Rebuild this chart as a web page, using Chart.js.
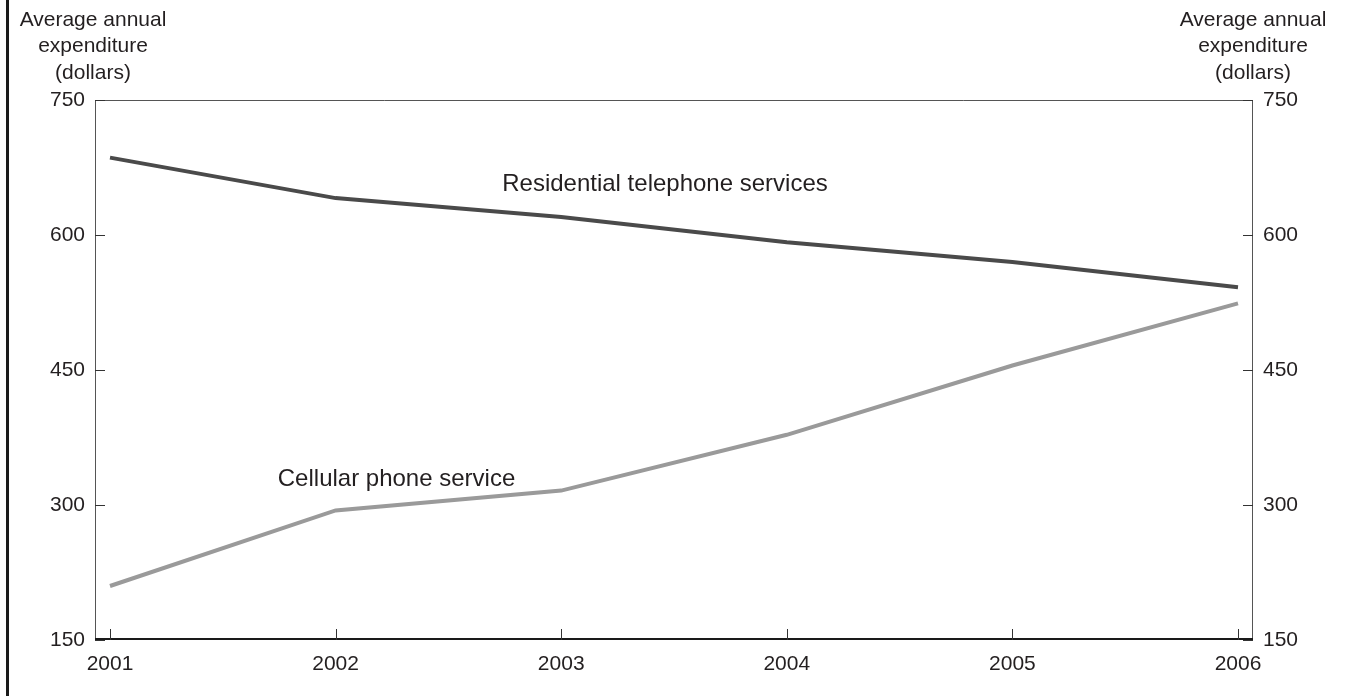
<!DOCTYPE html>
<html>
<head>
<meta charset="utf-8">
<script src="https://cdn.jsdelivr.net/npm/chart.js@4"></script>
<style>
  html, body { margin: 0; padding: 0; background: #fff; }
  canvas { display: block; }
</style>
</head>
<body>
<canvas id="chart" width="1346" height="696"></canvas>
<script>
const years = [2001, 2002, 2003, 2004, 2005, 2006];
const residential = [686, 641, 620, 592, 570, 542];
const cellular = [210, 294, 316, 378, 455, 524];
const yTicks = [150, 300, 450, 600, 750];
const axisTitle = ['Average annual', 'expenditure', '(dollars)'];
const seriesLabels = [
  { text: 'Residential telephone services', x: 2003.46, y: 656 },
  { text: 'Cellular phone service', x: 2002.27, y: 328 }
];

const FONT = 'Liberation Sans, Arial, Helvetica, sans-serif';
const TEXT = '#231f20';

// frame, plot border, inward ticks, titles and in-chart labels
const decor = {
  id: 'decor',
  beforeDraw(chart) {
    const c = chart.ctx;
    c.save();
    c.fillStyle = '#1a1a1a';
    c.fillRect(6, 0, 3, chart.height);
    c.restore();
  },
  afterDraw(chart) {
    const c = chart.ctx;
    const a = chart.chartArea;
    const sx = chart.scales.x, sy = chart.scales.y, sy2 = chart.scales.y2;
    c.save();
    // border
    c.strokeStyle = '#555';
    c.lineWidth = 1;
    c.beginPath();
    c.moveTo(a.left + 0.5, a.bottom);
    c.lineTo(a.left + 0.5, a.top + 0.5);
    c.lineTo(a.right - 0.5, a.top + 0.5);
    c.lineTo(a.right - 0.5, a.bottom);
    c.stroke();
    c.strokeStyle = '#1a1a1a';
    c.lineWidth = 2;
    c.beginPath();
    c.moveTo(a.left, a.bottom - 1);
    c.lineTo(a.right, a.bottom - 1);
    c.stroke();
    // inward ticks
    c.strokeStyle = '#333';
    c.lineWidth = 1;
    c.beginPath();
    years.forEach(v => {
      const px = Math.round(sx.getPixelForValue(v)) + 0.5;
      c.moveTo(px, a.bottom);
      c.lineTo(px, a.bottom - 11);
    });
    yTicks.forEach(v => {
      const py = Math.round(sy.getPixelForValue(v)) + 0.5;
      c.moveTo(a.left, py);
      c.lineTo(a.left + 10, py);
      const py2 = Math.round(sy2.getPixelForValue(v)) + 0.5;
      c.moveTo(a.right, py2);
      c.lineTo(a.right - 10, py2);
    });
    c.stroke();
    // axis titles
    c.fillStyle = TEXT;
    c.font = '21px ' + FONT;
    c.textAlign = 'center';
    c.textBaseline = 'middle';
    axisTitle.forEach((t, i) => {
      c.fillText(t, a.left - 2, 20 + i * 26.5);
      c.fillText(t, a.right, 20 + i * 26.5);
    });
    // series labels
    c.font = '24px ' + FONT;
    seriesLabels.forEach(l => {
      c.fillText(l.text, sx.getPixelForValue(l.x), sy.getPixelForValue(l.y));
    });
    c.restore();
  }
};

const yAxis = (pos, w) => ({
  type: 'linear',
  position: pos,
  min: 150,
  max: 750,
  afterBuildTicks: s => { s.ticks = yTicks.map(v => ({ value: v })); },
  afterFit: s => { s.width = w; },
  grid: { display: false, drawTicks: false },
  border: { display: false },
  ticks: { padding: 10, color: TEXT, font: { family: FONT, size: 21 } }
});

new Chart(document.getElementById('chart'), {
  type: 'line',
  data: {
    datasets: [
      {
        label: 'Residential telephone services',
        data: years.map((y, i) => ({ x: y, y: residential[i] })),
        borderColor: '#4a4a4a',
        borderWidth: 4,
        pointRadius: 0,
        tension: 0,
        fill: false
      },
      {
        label: 'Cellular phone service',
        data: years.map((y, i) => ({ x: y, y: cellular[i] })),
        borderColor: '#9a9a9a',
        borderWidth: 4,
        pointRadius: 0,
        tension: 0,
        fill: false
      }
    ]
  },
  options: {
    responsive: false,
    animation: false,
    layout: { padding: { top: 100, left: 0, right: 0, bottom: 0 } },
    plugins: { legend: { display: false }, tooltip: { enabled: false } },
    scales: {
      x: {
        type: 'linear',
        min: 2000.9335,
        max: 2006.0665,
        afterBuildTicks: s => { s.ticks = years.map(v => ({ value: v })); },
        afterFit: s => { s.height = 56; },
        grid: { display: false, drawTicks: false },
        border: { display: false },
        ticks: {
          padding: 12,
          autoSkip: false,
          maxRotation: 0,
          color: TEXT,
          font: { family: FONT, size: 21 },
          callback: v => String(v)
        }
      },
      y: yAxis('left', 95),
      y2: yAxis('right', 93)
    }
  },
  plugins: [decor]
});
</script>
</body>
</html>
